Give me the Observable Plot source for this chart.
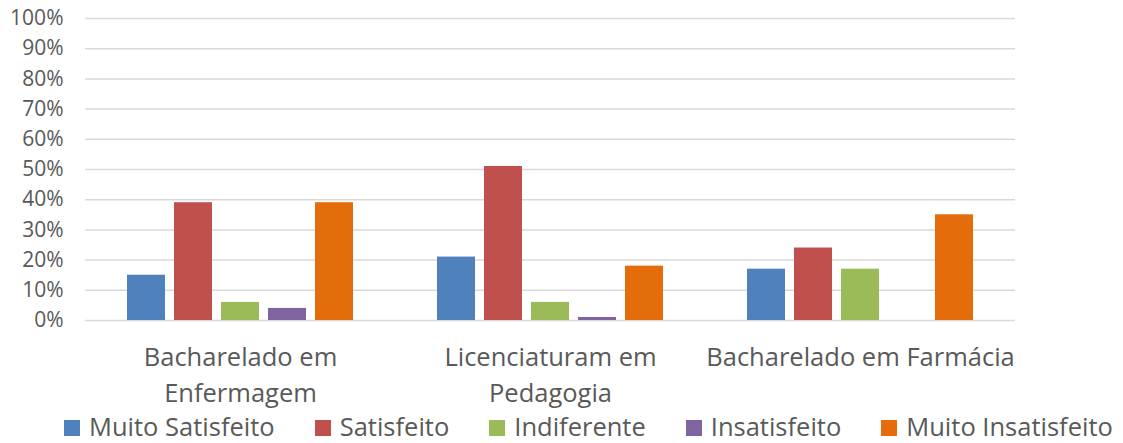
<!DOCTYPE html>
<html>
<head>
<meta charset="utf-8">
<script src="https://cdn.jsdelivr.net/npm/d3@7"></script>
<script src="https://cdn.jsdelivr.net/npm/@observablehq/plot@0.6"></script>
<style>
  html, body { margin: 0; padding: 0; background: #fff; }
  body { width: 1123px; height: 443px; overflow: hidden; position: relative; font-family: "Open Sans", sans-serif; }
  #chart svg { display: block; }
  #legend { position: absolute; left: 64px; top: 411px; height: 30px; display: flex; align-items: center; gap: 40px; font-size: 25.5px; line-height: 30px; color: #595959; }
  .item { display: flex; align-items: center; gap: 9px; white-space: nowrap; }
  .sw { width: 16px; height: 16px; display: inline-block; position: relative; top: 2px; }
</style>
</head>
<body>
<div id="chart"></div>
<div id="legend"></div>
<script>
const groups = ["Bacharelado em Enfermagem", "Licenciaturam em Pedagogia", "Bacharelado em Farmácia"];
const groupLabels = ["Bacharelado em\nEnfermagem", "Licenciaturam em\nPedagogia", "Bacharelado em Farmácia"];
const series = ["Muito Satisfeito", "Satisfeito", "Indiferente", "Insatisfeito", "Muito Insatisfeito"];
const colors = ["#4F81BD", "#C0504D", "#9BBB59", "#8064A2", "#E46C0A"];
const muitoSatisfeito = [0.15, 0.21, 0.17];
const satisfeito = [0.39, 0.51, 0.24];
const indiferente = [0.06, 0.06, 0.17];
const insatisfeito = [0.04, 0.01, 0.00];
const muitoInsatisfeito = [0.39, 0.18, 0.35];
const yTicks = [0, 0.1, 0.2, 0.3, 0.4, 0.5, 0.6, 0.7, 0.8, 0.9, 1.0];

const valuesBySeries = [muitoSatisfeito, satisfeito, indiferente, insatisfeito, muitoInsatisfeito];
const data = [];
groups.forEach((g, gi) => {
  series.forEach((s, si) => {
    data.push({group: g, series: s, value: valuesBySeries[si][gi]});
  });
});

const chart = Plot.plot({
  width: 1123,
  height: 443,
  marginLeft: 85,
  marginRight: 108,
  marginTop: 18,
  marginBottom: 123,
  style: {fontFamily: "'Open Sans', sans-serif", fontSize: "21px", color: "#595959", background: "#fff"},
  fx: {domain: groups, padding: 0, label: null},
  x: {domain: series, paddingInner: 0.2, paddingOuter: 0.85, axis: null},
  y: {domain: [0, 1], label: null},
  color: {domain: series, range: colors},
  marks: [
    Plot.gridY(yTicks, {stroke: "#d9d9d9", strokeOpacity: 1, strokeWidth: 1.5}),
    Plot.barY(data, {fx: "group", x: "series", y: "value", fill: "series"}),
    Plot.axisY(yTicks, {tickSize: 0, tickPadding: 22, tickFormat: d => Math.round(d * 100) + "%", label: null, fontSize: 21}),
    Plot.axisFx({anchor: "bottom", tickSize: 0, tickPadding: 20, lineHeight: 1.41, fontSize: 25.5, label: null,
      tickFormat: d => groupLabels[groups.indexOf(d)]})
  ]
});
document.getElementById("chart").appendChild(chart);

const legend = document.getElementById("legend");
series.forEach((s, i) => {
  const item = document.createElement("div");
  item.className = "item";
  const sw = document.createElement("span");
  sw.className = "sw";
  sw.style.background = colors[i];
  const t = document.createElement("span");
  t.textContent = s;
  item.appendChild(sw);
  item.appendChild(t);
  legend.appendChild(item);
});
</script>
</body>
</html>
